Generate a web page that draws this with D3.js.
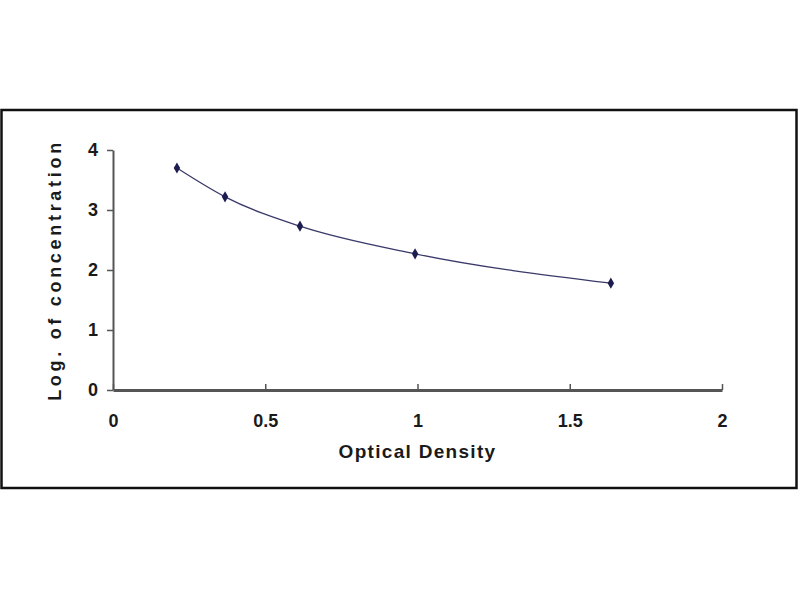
<!DOCTYPE html>
<html>
<head>
<meta charset="utf-8">
<script src="https://cdn.jsdelivr.net/npm/d3@7"></script>
<style>
  body { margin: 0; background: #fff; }
  text { font-family: "Liberation Sans", Arial, sans-serif; font-weight: bold; fill: #1a1a1a; }
</style>
</head>
<body>
<script>
// Standard curve readings
var opticalDensity = [0.21, 0.368, 0.614, 0.992, 1.635];
var logConcentration = [3.70, 3.22, 2.73, 2.27, 1.78];
var xTicks = [0, 0.5, 1, 1.5, 2];
var yTicks = [0, 1, 2, 3, 4];

// Set margins (plot area inside the 800x600 page)
var margin = {top: 150, left: 113, right: 78, bottom: 210};
var width = 800 - margin.left - margin.right;
var height = 600 - margin.top - margin.bottom;

var svg = d3.select('body').append('svg')
    .attr('width', 800)
    .attr('height', 600);

svg.append('rect')
    .attr('width', 800).attr('height', 600)
    .attr('fill', '#fff');

// outer frame
svg.append('rect')
    .attr('x', 1.5).attr('y', 110)
    .attr('width', 795).attr('height', 378)
    .attr('fill', 'none')
    .attr('stroke', '#111')
    .attr('stroke-width', 2.5);

var g = svg.append('g')
    .attr('transform', 'translate(' + margin.left + ',' + margin.top + ')');

// scales
var x = d3.scaleLinear().domain([0, 2]).range([0, width]);
var y = d3.scaleLinear().domain([0, 4]).range([height, 0]);

// x-axis, ticks point up into the plot
var xAxis = g.append('g')
    .attr('transform', 'translate(0,' + height + ')')
    .call(d3.axisBottom(x).tickValues(xTicks).tickFormat(d3.format('')).tickSizeInner(-6).tickSizeOuter(0).tickPadding(24));
xAxis.select('.domain').attr('stroke', '#555').attr('stroke-width', 3);
xAxis.selectAll('.tick line').attr('stroke', '#555').attr('stroke-width', 1.5);
xAxis.selectAll('text').style('font-size', '18px').attr('fill', '#1a1a1a');

// y-axis
var yAxis = g.append('g')
    .call(d3.axisLeft(y).tickValues(yTicks).tickFormat(d3.format('d')).tickSizeInner(6).tickSizeOuter(0).tickPadding(9));
yAxis.select('.domain').attr('stroke', '#555').attr('stroke-width', 2);
yAxis.selectAll('.tick line').attr('stroke', '#555').attr('stroke-width', 1.5);
yAxis.selectAll('text').style('font-size', '18px').attr('fill', '#1a1a1a');

// axis titles
g.append('text')
    .attr('x', x(1.0))
    .attr('y', height + 68)
    .attr('text-anchor', 'middle')
    .style('font-size', '19px')
    .style('letter-spacing', '1.3px')
    .text('Optical Density');

g.append('text')
    .attr('transform', 'translate(' + (-52) + ',' + (height / 2) + ') rotate(-90)')
    .attr('text-anchor', 'middle')
    .style('font-size', '18px')
    .style('letter-spacing', '3.7px')
    .text('Log. of concentration');

// points
var points = opticalDensity.map(function(d, i) {
    return {od: d, lc: logConcentration[i]};
});

// fitted curve through the standards
var line = d3.line()
    .x(function(d) { return x(d.od); })
    .y(function(d) { return y(d.lc); })
    .curve(d3.curveMonotoneX);

g.append('path')
    .datum(points)
    .attr('d', line)
    .attr('fill', 'none')
    .attr('stroke', '#3a3a6a')
    .attr('stroke-width', 1.3);

g.selectAll('.pt')
    .data(points)
    .enter().append('path')
    .attr('class', 'pt')
    .attr('transform', function(d) { return 'translate(' + x(d.od) + ',' + y(d.lc) + ')'; })
    .attr('d', d3.symbol().type(d3.symbolDiamond).size(36))
    .attr('fill', '#1c1c50');
</script>
</body>
</html>
